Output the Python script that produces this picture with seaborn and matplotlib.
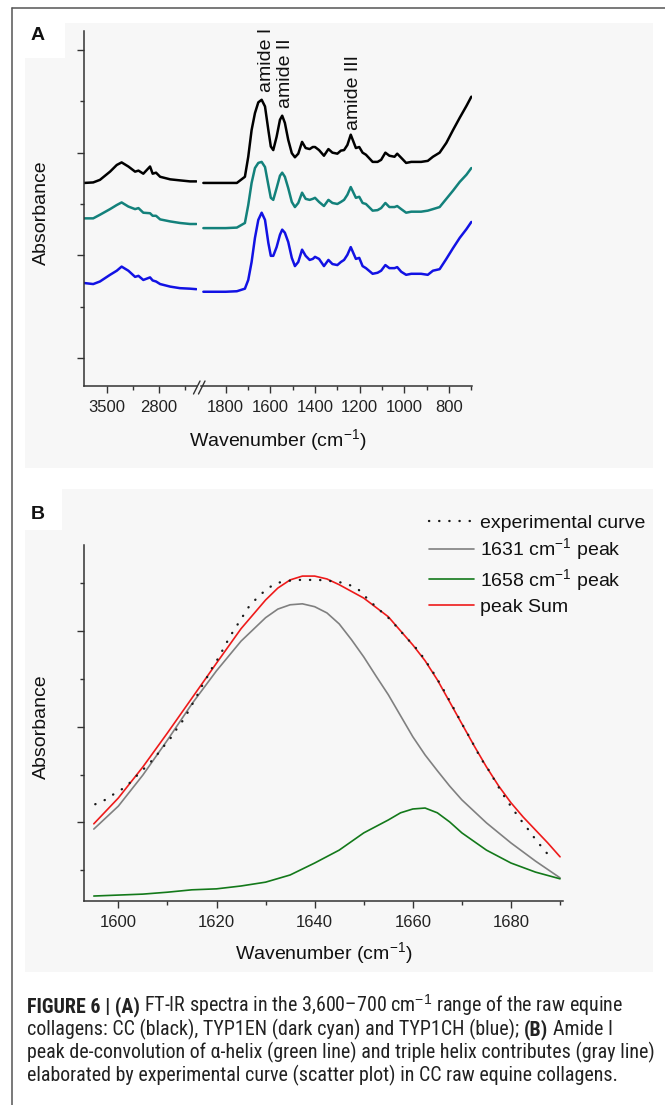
import matplotlib
matplotlib.use("Agg")
import matplotlib.pyplot as plt
from matplotlib import font_manager
from matplotlib.lines import Line2D
from matplotlib.patches import Rectangle
from matplotlib.ticker import FixedLocator
import seaborn as sns

# ------------------------------------------------------------------ data
# Panel A, high-wavenumber segment (cm-1)
wn_A_high = [3800, 3680, 3590, 3455, 3365, 3300, 3210, 3120, 3075, 3010,
             2920, 2885, 2840, 2785, 2650, 2520, 2385, 2300]
cc_high = [3.41, 3.42, 3.47, 3.63, 3.76, 3.81, 3.73, 3.63, 3.65, 3.59,
           3.73, 3.59, 3.61, 3.53, 3.48, 3.46, 3.44, 3.44]
typ1en_high = [2.72, 2.72, 2.79, 2.90, 2.98, 3.03, 2.95, 2.90, 2.92, 2.83,
               2.82, 2.77, 2.77, 2.70, 2.66, 2.63, 2.61, 2.61]
typ1ch_high = [1.46, 1.44, 1.49, 1.62, 1.70, 1.78, 1.70, 1.58, 1.60, 1.52,
               1.57, 1.51, 1.49, 1.44, 1.39, 1.36, 1.35, 1.34]

# Panel A, fingerprint segment (cm-1)
wn_A_low = [1900, 1800, 1750, 1714, 1699, 1684, 1669, 1654, 1639, 1624,
            1609, 1598, 1587, 1572, 1557, 1547, 1535, 1520, 1504, 1490,
            1475, 1458, 1442, 1424, 1410, 1400, 1382, 1360, 1340, 1322,
            1300, 1284, 1270, 1255, 1240, 1217, 1202, 1187, 1172, 1142,
            1120, 1104, 1085, 1067, 1044, 1032, 1014, 992, 969, 947,
            925, 895, 872, 842, 812, 782, 752, 722, 700]
cc_low = [3.41, 3.41, 3.41, 3.53, 3.92, 4.44, 4.77, 4.98, 5.03, 4.90,
          4.44, 4.12, 4.05, 4.31, 4.64, 4.72, 4.58, 4.25, 3.99, 3.91,
          3.98, 4.21, 4.09, 4.07, 4.11, 4.11, 4.05, 3.94, 4.07, 4.00,
          3.98, 4.04, 4.05, 4.15, 4.35, 4.09, 4.11, 4.00, 3.96, 3.82,
          3.82, 3.86, 4.00, 3.94, 3.92, 3.98, 3.90, 3.80, 3.82, 3.82,
          3.82, 3.84, 3.92, 4.00, 4.19, 4.44, 4.68, 4.91, 5.09]
typ1en_low = [2.53, 2.53, 2.54, 2.63, 2.98, 3.41, 3.70, 3.80, 3.82, 3.72,
              3.37, 3.12, 3.08, 3.31, 3.55, 3.61, 3.53, 3.31, 3.04, 2.94,
              3.02, 3.22, 3.10, 3.08, 3.10, 3.12, 3.04, 2.96, 3.08, 3.02,
              3.00, 3.04, 3.08, 3.18, 3.33, 3.12, 3.14, 3.02, 3.00, 2.87,
              2.88, 2.92, 3.02, 2.94, 2.94, 2.96, 2.90, 2.83, 2.85, 2.85,
              2.85, 2.87, 2.90, 2.94, 3.10, 3.26, 3.43, 3.57, 3.70]
typ1ch_low = [1.29, 1.29, 1.30, 1.35, 1.52, 1.87, 2.34, 2.69, 2.83, 2.69,
              2.24, 1.99, 1.99, 2.16, 2.40, 2.50, 2.44, 2.26, 1.95, 1.79,
              1.87, 2.11, 1.99, 1.91, 1.93, 1.97, 1.93, 1.79, 1.91, 1.83,
              1.81, 1.87, 1.91, 2.01, 2.16, 1.93, 1.95, 1.79, 1.75, 1.64,
              1.66, 1.70, 1.81, 1.75, 1.75, 1.77, 1.68, 1.62, 1.64, 1.64,
              1.64, 1.62, 1.70, 1.73, 1.93, 2.14, 2.34, 2.51, 2.65]

ticks_A_high_major = [3500, 2800]
ticks_A_high_minor = [3150, 2450]
ticks_A_low_major = [1800, 1600, 1400, 1200, 1000, 800]
ticks_A_low_minor = [1700, 1500, 1300, 1100, 900, 700]
yticks_A_major = [0, 2, 4, 6]
yticks_A_minor = [1, 3, 5]

amide_labels = ["amide I", "amide II", "amide III"]
amide_wn = [1619.5, 1532, 1227]
amide_top = [5.19, 4.87, 4.44]

# Panel B: amide I de-convolution
wn_gray = [1595, 1600, 1605, 1610, 1615, 1620, 1625, 1630, 1632.5, 1635,
           1637.5, 1640, 1642.5, 1645, 1647.5, 1650, 1652.5, 1655, 1657.5,
           1660, 1662.5, 1665, 1667.5, 1670, 1675, 1680, 1685, 1690]
peak_1631 = [1.86, 2.34, 2.99, 3.72, 4.48, 5.17, 5.79, 6.28, 6.46, 6.55,
             6.57, 6.51, 6.38, 6.15, 5.82, 5.46, 5.06, 4.67, 4.23, 3.79,
             3.41, 3.08, 2.76, 2.47, 1.99, 1.57, 1.19, 0.84]
wn_red = [1595, 1600, 1605, 1610, 1615, 1620, 1625, 1630, 1632.5, 1635,
          1637.5, 1640, 1642.5, 1645, 1650, 1655, 1660, 1662.5, 1665, 1667.5,
          1670, 1672.5, 1675, 1677.5, 1680, 1682.5, 1685, 1687.5, 1690]
peak_sum = [1.97, 2.51, 3.16, 3.87, 4.60, 5.33, 6.05, 6.65, 6.90, 7.07,
            7.15, 7.15, 7.09, 6.97, 6.69, 6.30, 5.71, 5.38, 4.98, 4.52,
            4.06, 3.60, 3.16, 2.76, 2.41, 2.11, 1.84, 1.57, 1.28]
wn_green = [1595, 1600, 1605, 1610, 1615, 1620, 1625, 1630, 1635, 1640,
            1645, 1650, 1655, 1657.5, 1660, 1662.5, 1665, 1667.5, 1670,
            1675, 1680, 1685, 1690]
peak_1658 = [0.46, 0.48, 0.50, 0.54, 0.59, 0.61, 0.67, 0.75, 0.90, 1.15,
             1.42, 1.78, 2.05, 2.20, 2.28, 2.30, 2.20, 2.01, 1.78, 1.42,
             1.15, 0.96, 0.82]
wn_exp = [1595.3, 1597.3, 1599.5, 1601.5, 1603.5, 1605.4, 1607.4, 1609.0,
          1610.7, 1612.0, 1613.5, 1614.6, 1615.8, 1616.8, 1618.1, 1619.1,
          1620.4, 1622.7, 1624.0, 1625.3, 1626.6, 1628.5, 1630.5, 1632.5,
          1634.6, 1636.7, 1638.7, 1640.8, 1642.9, 1644.8, 1647.0, 1649.0,
          1651.0, 1653.0, 1655.0, 1656.9, 1658.7, 1660.6, 1662.2, 1664.5,
          1666.5, 1668.3, 1669.4, 1670.6, 1671.8, 1672.8, 1673.9, 1675.3,
          1676.5, 1677.8, 1679.1, 1680.5, 1682.0, 1683.6, 1685.1, 1686.8,
          1688.5]
exp_curve = [2.38, 2.47, 2.62, 2.74, 2.95, 3.14, 3.35, 3.56, 3.77, 3.97,
             4.18, 4.39, 4.60, 4.81, 5.04, 5.23, 5.44, 5.88, 6.09, 6.30,
             6.51, 6.72, 6.90, 7.01, 7.05, 7.07, 7.07, 7.07, 7.05, 7.03,
             6.97, 6.86, 6.65, 6.46, 6.28, 6.07, 5.86, 5.65, 5.44, 5.08,
             4.73, 4.39, 4.18, 3.95, 3.74, 3.54, 3.33, 3.12, 2.91, 2.68,
             2.47, 2.26, 2.05, 1.84, 1.63, 1.42, 1.21]
ticks_B_major = [1600, 1620, 1640, 1660, 1680]
ticks_B_minor = [1610, 1630, 1650, 1670, 1690]
yticks_B_major = [2, 4, 6]
yticks_B_minor = [1, 3, 5, 7]
legend_labels = ["experimental curve", "1631 cm$^{-1}$ peak",
                 "1658 cm$^{-1}$ peak", "peak Sum"]

caption_lines = [
    [("FIGURE 6 | (A)", True),
     ("FT-IR spectra in the 3,600\u2013700 cm$^{-1}$ range of the raw equine", False)],
    [("collagens: CC (black), TYP1EN (dark cyan) and TYP1CH (blue);", False),
     ("(B)", True), ("Amide I", False)],
    [("peak de-convolution of \u03b1-helix (green line) and triple helix contributes (gray line)", False)],
    [("elaborated by experimental curve (scatter plot) in CC raw equine collagens.", False)],
]

# ------------------------------------------------------------------ style
sns.set_style("ticks")
plt.rcParams["font.family"] = ["Liberation Sans", "DejaVu Sans"]
plt.rcParams["mathtext.fontset"] = "custom"
plt.rcParams["mathtext.rm"] = "Liberation Sans"
plt.rcParams["mathtext.it"] = "Liberation Sans:italic"
plt.rcParams["mathtext.bf"] = "Liberation Sans:bold"
plt.rcParams["axes.facecolor"] = "none"

W, H = 665, 1105
fig = plt.figure(figsize=(W / 100, H / 100), dpi=100)
fig.patch.set_facecolor("white")


def fx(px):
    return px / W


def fy(py):
    return 1 - py / H


def rect(x0, y0, x1, y1):
    return [x0 / W, 1 - y1 / H, (x1 - x0) / W, (y1 - y0) / H]


def add_bg(x0, y0, x1, y1, color):
    fig.add_artist(Rectangle((fx(x0), fy(y1)), (x1 - x0) / W, (y1 - y0) / H,
                             transform=fig.transFigure, facecolor=color,
                             edgecolor="none", zorder=-5))


# panel backgrounds and frame
add_bg(25, 23, 653, 468, "#f7f7f7")
add_bg(25, 489, 653, 972, "#f7f7f7")
add_bg(25, 23, 65, 58, "white")
add_bg(25, 489, 62, 530, "white")
frame_c = "#555555"
fig.add_artist(Line2D([fx(12), fx(12)], [fy(8), 0], transform=fig.transFigure,
                      color=frame_c, lw=1.1, zorder=-4))
fig.add_artist(Line2D([fx(12), 1], [fy(8), fy(8)], transform=fig.transFigure,
                      color=frame_c, lw=1.1, zorder=-4))

spine_c = "#333333"
TICK_FS = 12
LABEL_FS = 14


def style_axis(ax, left=True):
    for s in ["top", "right"]:
        ax.spines[s].set_visible(False)
    ax.spines["left"].set_visible(left)
    for s in ["left", "bottom"]:
        ax.spines[s].set_color(spine_c)
        ax.spines[s].set_linewidth(1.1)
    ax.tick_params(axis="both", which="major", length=5, width=1.0, color=spine_c,
                   direction="out", labelsize=TICK_FS, pad=5, labelcolor="#222222")
    ax.tick_params(axis="both", which="minor", length=2.8, width=1.0, color=spine_c,
                   direction="out")
    ax.tick_params(axis="y", labelleft=False)
    if not left:
        ax.tick_params(axis="y", which="both", left=False)
    ax.set_xlabel("")
    ax.set_ylabel("")


# ------------------------------------------------------------------ panel A
axA1 = fig.add_axes(rect(83.5, 31, 196.7, 386))
axA2 = fig.add_axes(rect(201, 31, 472.3, 386))
colors_A = ["#000000", "#13817b", "#1212e4"]
lwA = 1.8
for ys, c in zip([cc_high, typ1en_high, typ1ch_high], colors_A):
    sns.lineplot(x=wn_A_high, y=ys, ax=axA1, color=c, lw=lwA)
for ys, c in zip([cc_low, typ1en_low, typ1ch_low], colors_A):
    sns.lineplot(x=wn_A_low, y=ys, ax=axA2, color=c, lw=lwA)

for ax in (axA1, axA2):
    ax.set_ylim(-0.546, 6.37)
axA1.set_xlim(3810, 2296)
axA2.set_xlim(1910.6, 695.7)
axA1.xaxis.set_major_locator(FixedLocator(ticks_A_high_major))
axA1.xaxis.set_minor_locator(FixedLocator(ticks_A_high_minor))
axA2.xaxis.set_major_locator(FixedLocator(ticks_A_low_major))
axA2.xaxis.set_minor_locator(FixedLocator(ticks_A_low_minor))
axA1.yaxis.set_major_locator(FixedLocator(yticks_A_major))
axA1.yaxis.set_minor_locator(FixedLocator(yticks_A_minor))
axA2.yaxis.set_major_locator(FixedLocator([]))
style_axis(axA1, left=True)
style_axis(axA2, left=False)

for lab, w, top in zip(amide_labels, amide_wn, amide_top):
    axA2.text(w, top, lab, rotation=90, ha="center", va="bottom",
              fontsize=LABEL_FS, color="#111111")

# axis break marks
for x0 in (193.5, 198.5):
    fig.add_artist(Line2D([fx(x0), fx(x0 + 6.5)], [fy(394), fy(381)],
                          transform=fig.transFigure, color=spine_c, lw=1.0))

fig.text(fx(278), fy(440), "Wavenumber (cm$^{-1}$)", ha="center", va="center",
         fontsize=LABEL_FS, color="#111111")
fig.text(fx(41), fy(213), "Absorbance", ha="center", va="center", rotation=90,
         fontsize=LABEL_FS, color="#111111")
fig.text(fx(31), fy(27), "A", ha="left", va="top", fontsize=14,
         fontweight="bold", color="#111111")

# ------------------------------------------------------------------ panel B
axB = fig.add_axes(rect(84, 545, 563, 901))
lwB = 1.2
sns.lineplot(x=wn_gray, y=peak_1631, ax=axB, color="#808080", lw=lwB, label=legend_labels[1])
sns.lineplot(x=wn_green, y=peak_1658, ax=axB, color="#13791a", lw=lwB, label=legend_labels[2])
sns.lineplot(x=wn_red, y=peak_sum, ax=axB, color="#ee1a1a", lw=lwB, label=legend_labels[3])
sns.lineplot(x=wn_exp, y=exp_curve, ax=axB, color="#1a1a1a", lw=1.7,
             linestyle=(0, (0.1, 4.2)), dash_capstyle="round",
             label=legend_labels[0])
axB.set_xlim(1593.0, 1690.6)
axB.set_ylim(0.356, 7.80)
axB.xaxis.set_major_locator(FixedLocator(ticks_B_major))
axB.xaxis.set_minor_locator(FixedLocator(ticks_B_minor))
axB.yaxis.set_major_locator(FixedLocator(yticks_B_major))
axB.yaxis.set_minor_locator(FixedLocator(yticks_B_minor))
style_axis(axB, left=True)

handles, labels = axB.get_legend_handles_labels()
order = [labels.index(l) for l in legend_labels]
leg = axB.legend([handles[i] for i in order], [labels[i] for i in order],
                 loc="upper left", bbox_to_anchor=(fx(429), fy(514)),
                 bbox_transform=fig.transFigure, frameon=False,
                 fontsize=LABEL_FS, handlelength=2.3, handletextpad=0.3,
                 labelspacing=0.25, borderpad=0, borderaxespad=0)
for t in leg.get_texts():
    t.set_color("#111111")

fig.text(fx(323.5), fy(953), "Wavenumber (cm$^{-1}$)", ha="center", va="center",
         fontsize=LABEL_FS, color="#111111")
fig.text(fx(41), fy(727), "Absorbance", ha="center", va="center", rotation=90,
         fontsize=LABEL_FS, color="#111111")
fig.text(fx(31), fy(506), "B", ha="left", va="top", fontsize=14,
         fontweight="bold", color="#111111")

# ------------------------------------------------------------------ caption
names = sorted({f.name for f in font_manager.fontManager.ttflist})
cap_family = "Liberation Sans"
for pref in ["Liberation Sans Narrow", "Arial Narrow", "Roboto Condensed",
             "Open Sans Condensed", "Noto Sans Condensed", "DejaVu Sans Condensed"]:
    if pref in names:
        cap_family = pref
        break
renderer = fig.canvas.get_renderer()


def draw_caption(fs, draw=True):
    arts = []
    widths = []
    sp_a = fig.text(0, 0, "a a", fontsize=fs, family=cap_family)
    sp_b = fig.text(0, 0, "aa", fontsize=fs, family=cap_family)
    space = (sp_a.get_window_extent(renderer).width
             - sp_b.get_window_extent(renderer).width)
    sp_a.remove()
    sp_b.remove()
    base_y = [1012, 1035, 1058, 1081]
    for line, by in zip(caption_lines, base_y):
        x = 27
        for txt, bold in line:
            t = fig.text(fx(x), fy(by), txt, fontsize=fs, family=cap_family,
                         fontweight="bold" if bold else "normal",
                         ha="left", va="baseline", color="#222222")
            arts.append(t)
            x += t.get_window_extent(renderer).width + space
        widths.append(x - space - 27)
    if not draw:
        for a in arts:
            a.remove()
    return widths


w0 = draw_caption(13, draw=False)
fs_cap = 13 * 628 / max(w0)
draw_caption(fs_cap, draw=True)

fig.savefig("out.png", dpi=100)
